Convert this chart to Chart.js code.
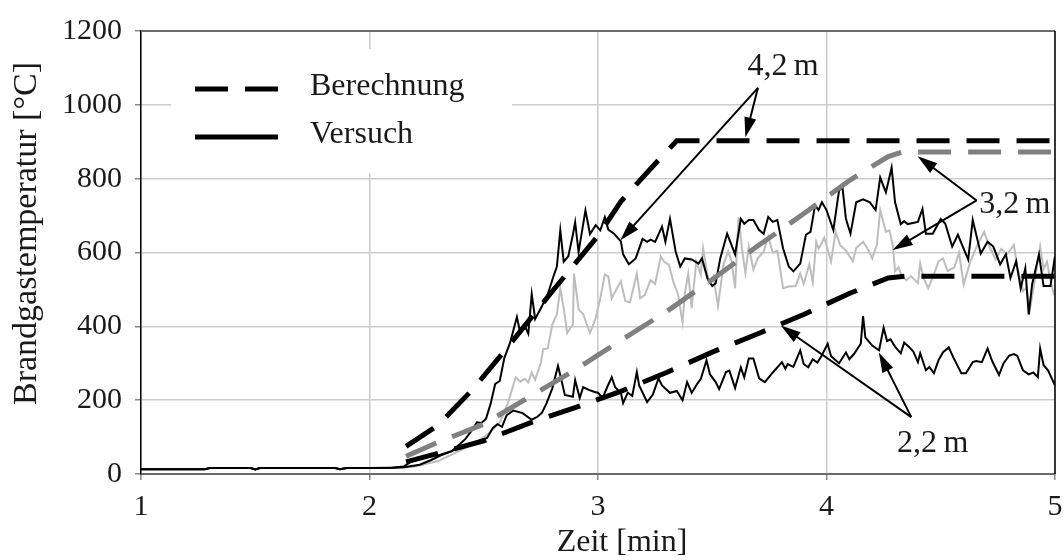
<!DOCTYPE html>
<html lang="de">
<head>
<meta charset="utf-8">
<title>Brandgastemperatur</title>
<script src="https://cdn.jsdelivr.net/npm/chart.js@4.4.1/dist/chart.umd.min.js"></script>
<style>
  html, body { margin: 0; padding: 0; background: #fff; }
  #wrap { width: 1064px; height: 560px; }
</style>
</head>
<body>
<div id="wrap"><canvas id="brandChart" width="1064" height="560"></canvas></div>
<script>
// Ruhephase vor der Zündung (alle drei Messstellen)
var zeitStart = [1.00, 1.10, 1.20, 1.28, 1.30, 1.40, 1.48, 1.50, 1.52, 1.60, 1.70, 1.80, 1.85, 1.87, 1.90, 2.00, 2.10];
var tempStart = [13, 13, 13, 13, 16, 16, 16, 12, 16, 16, 16, 16, 16, 13, 16, 16, 17];

// Versuch 4,2 m
var zeitV42 = [2.15, 2.22, 2.27, 2.31, 2.36, 2.385, 2.42, 2.45, 2.47, 2.49, 2.51, 2.53, 2.55, 2.57, 2.59, 2.615, 2.645, 2.66, 2.68, 2.695,
  2.71, 2.725, 2.755, 2.78, 2.805, 2.82, 2.835, 2.85, 2.87, 2.89, 2.9, 2.915, 2.945, 2.965, 2.99, 3.01, 3.03, 3.045, 3.07, 3.1,
  3.11, 3.135, 3.165, 3.195, 3.215, 3.23, 3.25, 3.28, 3.295, 3.315, 3.34, 3.36, 3.38, 3.41, 3.44, 3.455, 3.48, 3.5, 3.515, 3.535,
  3.565, 3.59, 3.6, 3.625, 3.64, 3.66, 3.68, 3.705, 3.725, 3.745, 3.765, 3.785, 3.81, 3.835, 3.855, 3.885, 3.91, 3.93, 3.95, 3.965,
  3.98, 4.0, 4.03, 4.055, 4.07, 4.085, 4.105, 4.13, 4.16, 4.19, 4.215, 4.235, 4.26, 4.285, 4.3, 4.325, 4.34, 4.355, 4.4, 4.42,
  4.435, 4.465, 4.5, 4.52, 4.55, 4.575, 4.62, 4.64, 4.675, 4.705, 4.73, 4.76, 4.785, 4.805, 4.83, 4.85, 4.87, 4.885, 4.9, 4.93,
  4.95, 4.98, 5.0];
var tempV42 = [18, 25, 38, 50, 62, 75, 95, 120, 140, 138, 150, 190, 244, 252, 314, 355, 425, 382, 400, 380,
  487, 420, 455, 487, 535, 562, 660, 575, 590, 648, 682, 601, 714, 650, 674, 660, 696, 662, 651, 630,
  595, 568, 584, 637, 629, 635, 629, 670, 629, 691, 602, 562, 584, 581, 570, 584, 528, 509, 517, 584,
  651, 611, 595, 691, 678, 688, 688, 661, 651, 696, 683, 688, 611, 562, 549, 570, 648, 656, 728, 715,
  736, 715, 661, 768, 776, 691, 651, 736, 744, 736, 715, 803, 763, 830, 736, 677, 685, 677, 683, 718,
  651, 651, 691, 678, 616, 648, 581, 688, 597, 629, 616, 568, 595, 531, 576, 503, 557, 432, 514, 595,
  509, 509, 590];

// Versuch 3,2 m
var zeitV32 = [2.15, 2.2, 2.25, 2.3, 2.385, 2.45, 2.515, 2.57, 2.605, 2.64, 2.66, 2.68, 2.695, 2.71, 2.725, 2.75, 2.76, 2.78, 2.8, 2.82,
  2.835, 2.85, 2.865, 2.89, 2.895, 2.915, 2.935, 2.965, 2.99, 3.01, 3.03, 3.045, 3.06, 3.08, 3.1, 3.12, 3.14, 3.17, 3.185, 3.205,
  3.23, 3.25, 3.275, 3.29, 3.31, 3.33, 3.35, 3.37, 3.38, 3.395, 3.41, 3.43, 3.45, 3.46, 3.485, 3.505, 3.525, 3.55, 3.57, 3.585,
  3.6, 3.615, 3.63, 3.645, 3.66, 3.68, 3.7, 3.725, 3.745, 3.765, 3.785, 3.81, 3.835, 3.865, 3.885, 3.9, 3.925, 3.94, 3.955, 3.965,
  3.975, 3.99, 4.02, 4.04, 4.06, 4.085, 4.115, 4.13, 4.16, 4.18, 4.2, 4.22, 4.235, 4.26, 4.275, 4.29, 4.3, 4.315, 4.33, 4.35,
  4.37, 4.4, 4.41, 4.425, 4.445, 4.47, 4.49, 4.51, 4.53, 4.56, 4.58, 4.6, 4.63, 4.66, 4.69, 4.71, 4.74, 4.765, 4.79, 4.82,
  4.835, 4.86, 4.875, 4.89, 4.905, 4.935, 4.95, 4.965, 4.98, 4.995, 5.0];
var tempV32 = [17, 20, 28, 35, 60, 80, 106, 139, 191, 262, 250, 258, 248, 275, 255, 302, 338, 340, 405, 433,
  503, 449, 382, 405, 543, 446, 433, 382, 422, 476, 540, 535, 476, 500, 522, 468, 465, 543, 476, 485,
  525, 515, 589, 575, 567, 520, 487, 410, 490, 543, 449, 576, 540, 611, 517, 535, 455, 570, 603, 575,
  503, 696, 611, 545, 616, 554, 585, 603, 643, 600, 605, 503, 508, 509, 543, 515, 568, 520, 629, 610,
  621, 640, 576, 656, 620, 605, 576, 612, 629, 610, 584, 620, 715, 656, 660, 621, 549, 560, 536, 525,
  536, 517, 570, 530, 503, 540, 576, 584, 550, 560, 600, 514, 576, 620, 656, 620, 581, 610, 595, 621,
  560, 495, 505, 445, 500, 616, 555, 575, 525, 487, 487];

// Versuch 2,2 m
var zeitV22 = [2.15, 2.18, 2.235, 2.31, 2.36, 2.4, 2.46, 2.515, 2.54, 2.56, 2.58, 2.6, 2.63, 2.67, 2.71, 2.735, 2.755, 2.775, 2.8, 2.825,
  2.84, 2.855, 2.89, 2.9, 2.92, 2.935, 2.96, 2.985, 3.0, 3.02, 3.04, 3.06, 3.075, 3.1, 3.11, 3.13, 3.15, 3.17, 3.18, 3.215,
  3.24, 3.265, 3.28, 3.315, 3.345, 3.37, 3.39, 3.41, 3.435, 3.45, 3.475, 3.49, 3.515, 3.53, 3.56, 3.575, 3.6, 3.625, 3.64, 3.66,
  3.68, 3.705, 3.73, 3.765, 3.805, 3.82, 3.83, 3.855, 3.885, 3.9, 3.92, 3.94, 3.96, 3.975, 4.005, 4.02, 4.055, 4.085, 4.1, 4.12,
  4.15, 4.16, 4.17, 4.2, 4.23, 4.25, 4.265, 4.28, 4.3, 4.325, 4.34, 4.36, 4.38, 4.4, 4.41, 4.435, 4.45, 4.47, 4.49, 4.51,
  4.535, 4.555, 4.59, 4.61, 4.64, 4.655, 4.68, 4.705, 4.725, 4.755, 4.775, 4.8, 4.82, 4.835, 4.86, 4.885, 4.905, 4.925, 4.935, 4.95,
  4.97, 5.0];
var tempV22 = [20, 33, 44, 52, 62, 74, 85, 98, 125, 135, 128, 159, 172, 165, 147, 155, 166, 192, 232, 293,
  254, 214, 209, 254, 206, 235, 228, 222, 220, 206, 235, 262, 235, 220, 192, 220, 212, 276, 240, 195,
  215, 259, 240, 220, 225, 200, 249, 220, 245, 258, 308, 270, 249, 230, 276, 280, 233, 289, 262, 313,
  313, 259, 249, 275, 303, 285, 298, 290, 335, 298, 289, 311, 302, 316, 353, 319, 300, 329, 311, 325,
  353, 428, 370, 348, 335, 396, 360, 365, 345, 327, 356, 345, 332, 303, 327, 281, 290, 273, 308, 330,
  343, 316, 273, 273, 303, 306, 303, 340, 306, 268, 300, 321, 325, 320, 281, 270, 275, 262, 340, 295,
  280, 240];

// Berechnung
var zeitB42 = [2.16, 2.3, 2.45, 2.6, 2.8, 3.0, 3.1, 3.23, 3.345, 5.0];
var tempB42 = [75, 132, 228, 340, 495, 645, 738, 827, 903, 903];
var zeitB32 = [2.16, 2.3, 2.5, 2.7, 2.9, 3.1, 3.3, 3.5, 3.7, 3.9, 4.1, 4.27, 4.33, 5.0];
var tempB32 = [48, 86, 135, 209, 282, 362, 440, 527, 618, 705, 795, 860, 872, 872];
var zeitB22 = [2.16, 2.3, 2.5, 2.7, 2.9, 3.1, 3.3, 3.5, 3.7, 3.9, 4.1, 4.27, 4.35, 5.0];
var tempB22 = [33, 56, 90, 138, 180, 224, 275, 330, 380, 432, 489, 531, 536, 536];

var xTicks = [1, 2, 3, 4, 5];
var yTicks = [0, 200, 400, 600, 800, 1000, 1200];

var schrift = "'Liberation Serif', 'Times New Roman', serif";
var textFarbe = '#1a1a1a';

function punkte(zeit, temp, mitStart) {
  var out = [];
  if (mitStart) {
    for (var i = 0; i < zeitStart.length; i++) out.push({x: zeitStart[i], y: tempStart[i]});
  }
  for (var j = 0; j < zeit.length; j++) out.push({x: zeit[j], y: temp[j]});
  return out;
}

function linie(daten, farbe, breite, strich, reihenfolge) {
  return {
    data: daten,
    borderColor: farbe,
    borderWidth: breite,
    borderDash: strich,
    pointRadius: 0,
    tension: 0,
    fill: false,
    order: reihenfolge
  };
}

// Beschriftung der Messhöhen mit Pfeilen (Werte in Achseneinheiten)
var hinweise = [
  { text: '4,2\u2009m', at: [3.81, 1104], von: [3.70, 1046], ziele: [[3.098, 633], [3.645, 912]] },
  { text: '3,2\u2009m', at: [4.824, 729], von: [4.657, 741], ziele: [[4.399, 861], [4.29, 607]] },
  { text: '2,2\u2009m', at: [4.465, 82], von: [4.371, 154], ziele: [[3.80, 402], [4.229, 329]] }
];

var eintraege = [
  { text: 'Berechnung', dash: [33, 17] },
  { text: 'Versuch', dash: [] }
];

var titelX = 'Zeit [min]';
var titelY = 'Brandgastemperatur [°C]';

// Rahmen oben/rechts und Achsentitel
var rahmen = {
  id: 'rahmen',
  afterDraw: function(chart) {
    var ca = chart.chartArea, ctx = chart.ctx;
    ctx.save();
    ctx.lineWidth = 2;
    ctx.strokeStyle = '#6b6b6b';
    ctx.beginPath(); ctx.moveTo(ca.left, ca.top); ctx.lineTo(ca.right, ca.top); ctx.stroke();
    ctx.lineWidth = 1.5;
    ctx.strokeStyle = '#000';
    ctx.beginPath(); ctx.moveTo(ca.right, ca.top); ctx.lineTo(ca.right, ca.bottom); ctx.stroke();

    ctx.fillStyle = textFarbe;
    ctx.textAlign = 'center';
    ctx.textBaseline = 'middle';
    ctx.font = '32px ' + schrift;
    ctx.fillText(titelX, (ca.left + ca.right) / 2 + 24, ca.bottom + 69);
    ctx.translate(27, (ca.top + ca.bottom) / 2 - 19);
    ctx.rotate(-Math.PI / 2);
    ctx.font = '34px ' + schrift;
    ctx.fillText(titelY, 0, 0);
    ctx.restore();
  }
};

var legende = {
  id: 'legende',
  afterDraw: function(chart) {
    var ca = chart.chartArea, ctx = chart.ctx;
    var x0 = ca.left + 30, y0 = ca.top + 18;
    ctx.save();
    ctx.fillStyle = '#fff';
    ctx.fillRect(x0, y0, 341, 124);
    eintraege.forEach(function(e, i) {
      var y = y0 + 40 + i * 48;
      ctx.beginPath();
      ctx.setLineDash(e.dash);
      ctx.lineWidth = 5;
      ctx.strokeStyle = '#000';
      ctx.moveTo(x0 + 24, y);
      ctx.lineTo(x0 + 107, y);
      ctx.stroke();
      ctx.setLineDash([]);
      ctx.fillStyle = textFarbe;
      ctx.font = '32px ' + schrift;
      ctx.textBaseline = 'middle';
      ctx.textAlign = 'left';
      ctx.fillText(e.text, x0 + 139, y - 2);
    });
    ctx.restore();
  }
};

function pfeil(ctx, x1, y1, x2, y2) {
  var w = Math.atan2(y2 - y1, x2 - x1);
  var len = 20, halb = 6;
  ctx.beginPath();
  ctx.moveTo(x1, y1);
  ctx.lineTo(x2 - Math.cos(w) * len * 0.8, y2 - Math.sin(w) * len * 0.8);
  ctx.stroke();
  ctx.beginPath();
  ctx.moveTo(x2, y2);
  ctx.lineTo(x2 - Math.cos(w) * len - Math.sin(w) * halb, y2 - Math.sin(w) * len + Math.cos(w) * halb);
  ctx.lineTo(x2 - Math.cos(w) * len + Math.sin(w) * halb, y2 - Math.sin(w) * len - Math.cos(w) * halb);
  ctx.closePath();
  ctx.fill();
}

var beschriftung = {
  id: 'beschriftung',
  afterDatasetsDraw: function(chart) {
    var ctx = chart.ctx, sx = chart.scales.x, sy = chart.scales.y;
    ctx.save();
    ctx.strokeStyle = '#000';
    ctx.fillStyle = '#000';
    ctx.lineWidth = 2;
    hinweise.forEach(function(h) {
      var ax = sx.getPixelForValue(h.von[0]), ay = sy.getPixelForValue(h.von[1]);
      h.ziele.forEach(function(z) {
        pfeil(ctx, ax, ay, sx.getPixelForValue(z[0]), sy.getPixelForValue(z[1]));
      });
      ctx.fillStyle = textFarbe;
      ctx.font = '32px ' + schrift;
      ctx.textAlign = 'center';
      ctx.textBaseline = 'middle';
      ctx.fillText(h.text, sx.getPixelForValue(h.at[0]), sy.getPixelForValue(h.at[1]));
      ctx.fillStyle = '#000';
    });
    ctx.restore();
  }
};

var ctx = document.getElementById('brandChart').getContext('2d');
var brandChart = new Chart(ctx, {
  type: 'line',
  data: {
    datasets: [
      linie(punkte(zeitB42, tempB42, false), '#000', 5, [33, 17], 0),
      linie(punkte(zeitB32, tempB32, false), '#808080', 5, [33, 17], 0),
      linie(punkte(zeitB22, tempB22, false), '#000', 5, [33, 17], 0),
      linie(punkte(zeitV42, tempV42, true), '#000', 2, [], 1),
      linie(punkte(zeitV22, tempV22, true), '#000', 2, [], 1),
      linie(punkte(zeitV32, tempV32, true), '#bdbdbd', 2, [], 2)
    ]
  },
  options: {
    responsive: false,
    animation: false,
    devicePixelRatio: 1,
    layout: { padding: { top: 27, right: 9, left: 0, bottom: 0 } },
    plugins: {
      legend: { display: false },
      tooltip: { enabled: false }
    },
    scales: {
      x: {
        type: 'linear',
        min: 1,
        max: 5,
        afterBuildTicks: function(s) { s.ticks = xTicks.map(function(v) { return {value: v}; }); },
        afterFit: function(s) {
          s.height = 86;
          s.paddingLeft = 0;
          s.paddingRight = 0;
        },
        ticks: {
          font: { family: schrift, size: 30, lineHeight: 1.2 },
          color: textFarbe,
          padding: 9,
          maxRotation: 0,
          callback: function(v) { return String(v); }
        },
        grid: { color: '#cccccc', lineWidth: 1.5, tickLength: 6, tickColor: '#888' },
        border: { color: '#6b6b6b', width: 2 }
      },
      y: {
        min: 0,
        max: 1200,
        afterBuildTicks: function(s) { s.ticks = yTicks.map(function(v) { return {value: v}; }); },
        afterFit: function(s) { s.width = 141; },
        ticks: {
          font: { family: schrift, size: 30, lineHeight: 1.2 },
          color: textFarbe,
          padding: 13,
          callback: function(v) { return String(v); }
        },
        grid: { color: '#cccccc', lineWidth: 1.5, tickLength: 6, tickColor: '#888' },
        border: { color: '#000', width: 1.5 }
      }
    }
  },
  plugins: [rahmen, legende, beschriftung]
});
</script>
</body>
</html>
